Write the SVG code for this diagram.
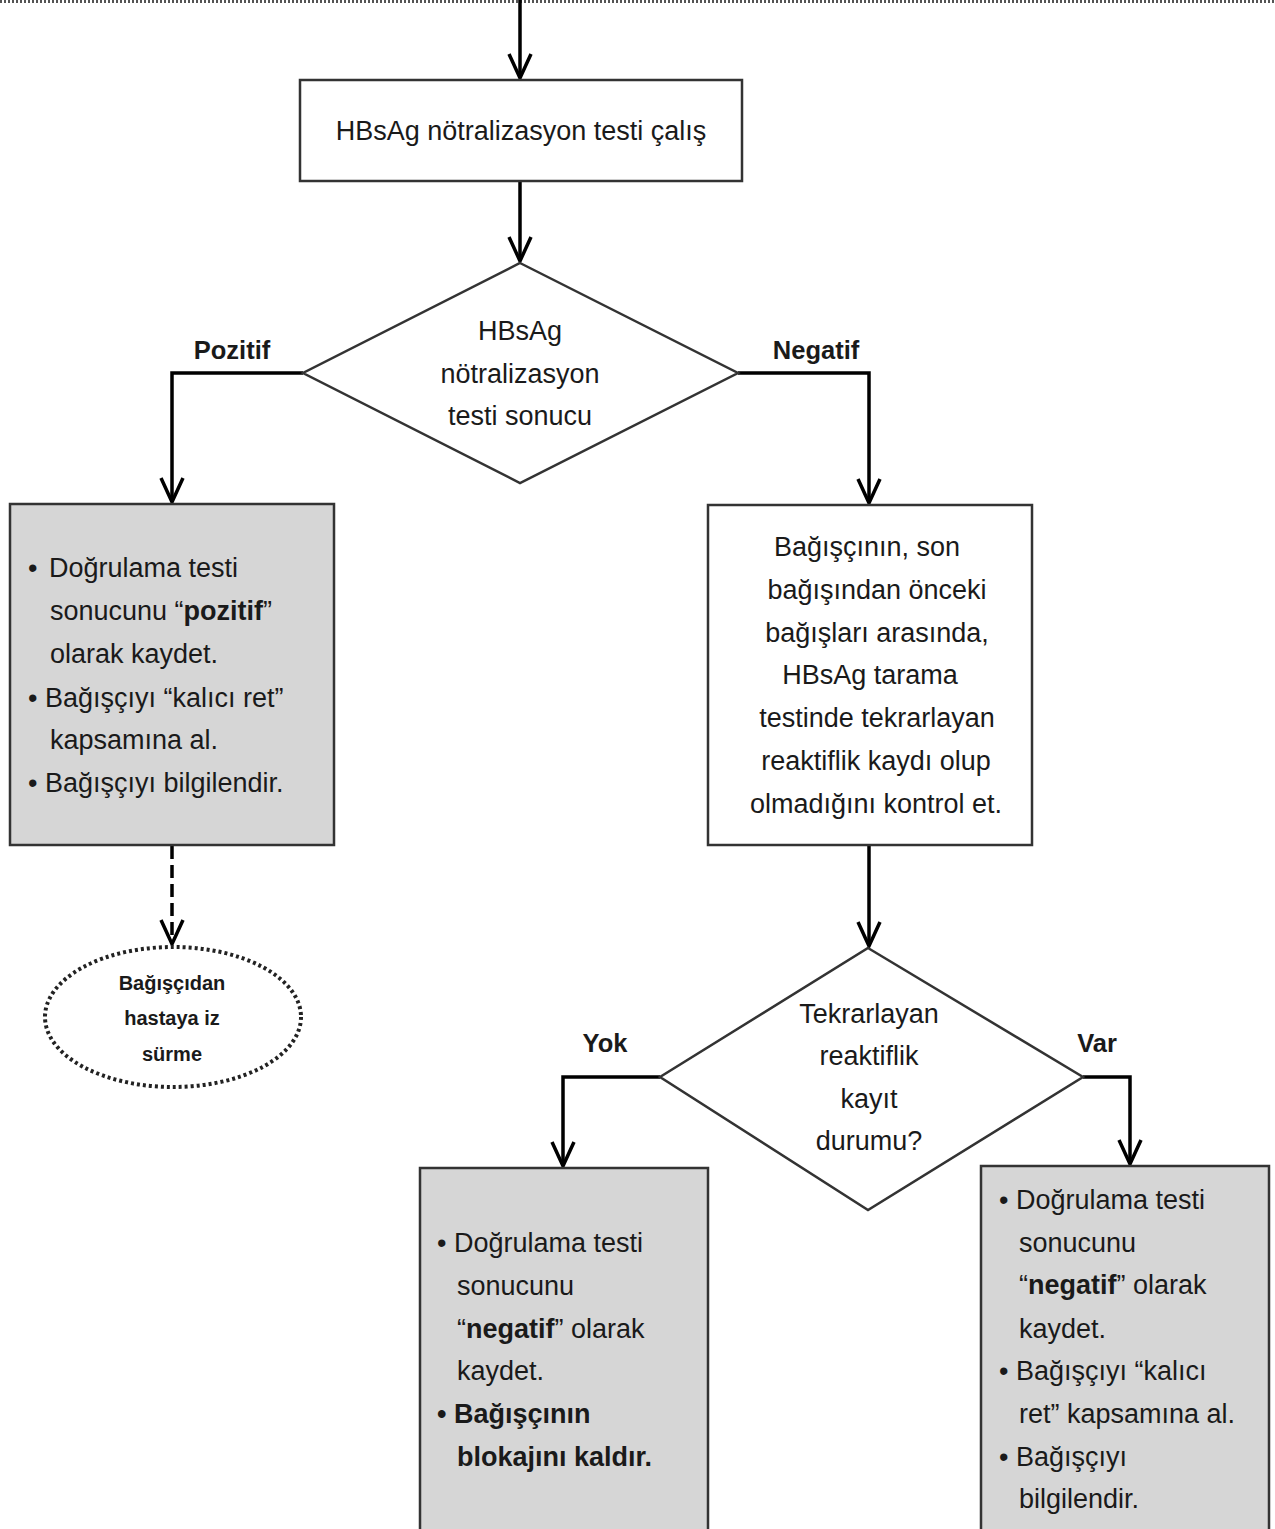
<svg xmlns="http://www.w3.org/2000/svg" width="1275" height="1529" viewBox="0 0 1275 1529">
<defs>
<marker id="ah" markerUnits="userSpaceOnUse" markerWidth="32" markerHeight="32" viewBox="-28 -16 32 32" refX="0" refY="0" orient="auto">
<path d="M-24,-11 L0,0 L-24,11" fill="none" stroke="#000" stroke-width="3.5" stroke-linejoin="miter"/>
</marker>
</defs>
<style>
.box{stroke:#333;stroke-width:2.5}
.white{fill:#fff}
.grey{fill:#d6d6d6}
.t{font-family:"Liberation Sans",Arial,sans-serif;font-size:27px;fill:#1a1a1a}
.c{text-anchor:middle}
.b{font-weight:bold}
.lbl{font-family:"Liberation Sans",Arial,sans-serif;font-size:25.5px;font-weight:bold;fill:#1a1a1a;text-anchor:middle}
.con{fill:none;stroke:#000;stroke-width:3.5}
</style>
<rect width="1275" height="1529" fill="#fff"/>
<line x1="0" y1="1.5" x2="1275" y2="1.5" stroke="#555" stroke-width="3" stroke-dasharray="2 2"/>

<g id="connectors">
<line class="con" x1="520" y1="0" x2="520" y2="78" marker-end="url(#ah)"/>
<line class="con" x1="520" y1="181" x2="520" y2="261" marker-end="url(#ah)"/>
<polyline class="con" points="303,373 172,373 172,502" marker-end="url(#ah)"/>
<polyline class="con" points="738,373 869,373 869,503" marker-end="url(#ah)"/>
<line class="con" x1="172" y1="846" x2="172" y2="944" stroke-dasharray="13 6" marker-end="url(#ah)"/>
<line class="con" x1="869" y1="845" x2="869" y2="946" marker-end="url(#ah)"/>
<polyline class="con" points="660,1077 563,1077 563,1166" marker-end="url(#ah)"/>
<polyline class="con" points="1083,1077 1130,1077 1130,1164" marker-end="url(#ah)"/>
<text class="lbl" x="232" y="359">Pozitif</text>
<text class="lbl" x="816" y="359">Negatif</text>
<text class="lbl" x="605" y="1052">Yok</text>
<text class="lbl" x="1097" y="1052">Var</text>
</g>

<g id="n1">
<rect class="box white" x="300" y="80" width="442" height="101"/>
<text class="t c" x="521" y="140">HBsAg nötralizasyon  testi çalış</text>
</g>

<g id="d1">
<polygon class="box white" points="520,263 738,373 520,483 303,373"/>
<text class="t c" x="520" y="340">HBsAg</text>
<text class="t c" x="520" y="383">nötralizasyon</text>
<text class="t c" x="520" y="425">testi sonucu</text>
</g>

<g id="n2">
<rect class="box grey" x="10" y="504" width="324" height="341"/>
<text class="t" x="28" y="577">• <tspan dx="4">Doğrulama testi</tspan></text>
<text class="t" x="50" y="620">sonucunu “<tspan class="b">pozitif</tspan>”</text>
<text class="t" x="50" y="663">olarak kaydet.</text>
<text class="t" x="28" y="707">• Bağışçıyı “kalıcı ret”</text>
<text class="t" x="50" y="749">kapsamına al.</text>
<text class="t" x="28" y="792">• Bağışçıyı bilgilendir.</text>
</g>

<g id="n3">
<ellipse cx="173" cy="1017" rx="128" ry="70" fill="#fff" stroke="#222" stroke-width="4" stroke-dasharray="3 3"/>
<text class="t c b" style="font-size:20px" x="172" y="990">Bağışçıdan</text>
<text class="t c b" style="font-size:20px" x="172" y="1025">hastaya iz</text>
<text class="t c b" style="font-size:20px" x="172" y="1061">sürme</text>
</g>

<g id="n4">
<rect class="box white" x="708" y="505" width="324" height="340"/>
<text class="t c" x="867" y="556">Bağışçının, son</text>
<text class="t c" x="877" y="599">bağışından önceki</text>
<text class="t c" x="877" y="642">bağışları arasında,</text>
<text class="t c" x="870" y="684">HBsAg tarama</text>
<text class="t c" x="877" y="727">testinde tekrarlayan</text>
<text class="t c" x="876" y="770">reaktiflik kaydı olup</text>
<text class="t c" x="876" y="813">olmadığını kontrol et.</text>
</g>

<g id="d2">
<polygon class="box white" points="868,948 1083,1077 868,1210 660,1077"/>
<text class="t c" x="869" y="1023">Tekrarlayan</text>
<text class="t c" x="869" y="1065">reaktiflik</text>
<text class="t c" x="869" y="1108">kayıt</text>
<text class="t c" x="869" y="1150">durumu?</text>
</g>

<g id="n5">
<rect class="box grey" x="420" y="1168" width="288" height="380"/>
<text class="t" x="437" y="1252">• Doğrulama testi</text>
<text class="t" x="457" y="1295">sonucunu</text>
<text class="t" x="457" y="1338">“<tspan class="b">negatif</tspan>” olarak</text>
<text class="t" x="457" y="1380">kaydet.</text>
<text class="t b" x="437" y="1423">• Bağışçının</text>
<text class="t b" x="457" y="1466">blokajını  kaldır.</text>
</g>

<g id="n6">
<rect class="box grey" x="981" y="1166" width="288" height="380"/>
<text class="t" x="999" y="1209">• Doğrulama testi</text>
<text class="t" x="1019" y="1252">sonucunu</text>
<text class="t" x="1019" y="1294">“<tspan class="b">negatif</tspan>” olarak</text>
<text class="t" x="1019" y="1338">kaydet.</text>
<text class="t" x="999" y="1380">• Bağışçıyı “kalıcı</text>
<text class="t" x="1019" y="1423">ret” kapsamına  al.</text>
<text class="t" x="999" y="1466">• Bağışçıyı</text>
<text class="t" x="1019" y="1508">bilgilendir.</text>
</g>
</svg>
